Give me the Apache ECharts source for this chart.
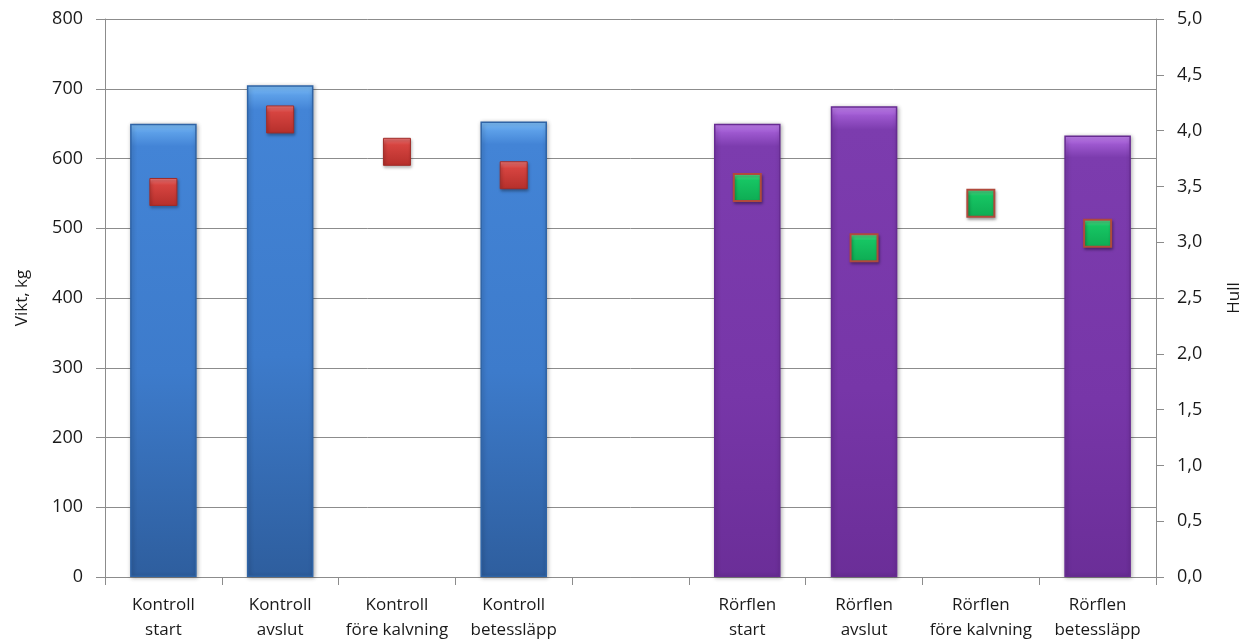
<!DOCTYPE html>
<html>
<head>
<meta charset="utf-8">
<script src="https://cdn.jsdelivr.net/npm/echarts@6/dist/echarts.min.js"></script>
<style>
  html, body { margin: 0; padding: 0; background: #fff; }
  #chart { width: 1251px; height: 644px; }
</style>
</head>
<body>
<div id="chart"></div>
<script>
// Categories (an empty slot separates the two groups)
const categories = [
  'Kontroll\nstart', 'Kontroll\navslut', 'Kontroll\nföre kalvning', 'Kontroll\nbetessläpp',
  '',
  'Rörflen\nstart', 'Rörflen\navslut', 'Rörflen\nföre kalvning', 'Rörflen\nbetessläpp'
];
// Weight, kg (left axis)
const viktKg = [650, 705, null, 653, null, 650, 675, null, 633];
// Body condition score (right axis)
const hull = [3.45, 4.1, 3.81, 3.6, null, 3.49, 2.95, 3.35, 3.08];
// Group of each category: 'k' = Kontroll, 'r' = Rörflen
const group = ['k', 'k', 'k', 'k', '', 'r', 'r', 'r', 'r'];

const leftTicks = { min: 0, max: 800, interval: 100 };
const rightTicks = { min: 0, max: 5, interval: 0.5 };

const font = '"Open Sans", "Noto Sans", sans-serif';

function grad(stops) {
  return new echarts.graphic.LinearGradient(0, 0, 0, 1, stops.map(c => ({ offset: c[0], color: c[1] })));
}

const blueBar = grad([[0, '#80c0f8'], [0.02, '#5c9fe8'], [0.05, '#4384d6'], [0.55, '#3d7bcb'], [1, '#2e5e9e']]);
const purpleBar = grad([[0, '#c585f2'], [0.02, '#9d58cf'], [0.05, '#7c3cae'], [0.6, '#7736a8'], [1, '#6b2e98']]);
const redMark = grad([[0, '#f07a7a'], [0.25, '#d64440'], [1, '#b52f2b']]);
const greenMark = grad([[0, '#6ff0a0'], [0.25, '#16c563'], [1, '#0eab53']]);

const barData = viktKg.map((v, i) => ({
  value: v,
  itemStyle: {
    color: group[i] === 'k' ? blueBar : purpleBar,
    borderColor: group[i] === 'k' ? '#2f64a6' : '#672b92',
    borderWidth: 1.5,
    shadowColor: 'rgba(0,0,0,0.3)',
    shadowBlur: 4,
    shadowOffsetX: 1,
    shadowOffsetY: 1
  }
}));

const markData = hull.map((v, i) => ({
  value: v,
  itemStyle: {
    opacity: 1,
    color: group[i] === 'k' ? redMark : greenMark,
    borderColor: group[i] === 'k' ? '#a02c28' : '#b04a3c',
    borderWidth: group[i] === 'k' ? 1 : 2,
    shadowColor: 'rgba(0,0,0,0.35)',
    shadowBlur: 3,
    shadowOffsetX: 1,
    shadowOffsetY: 2
  }
}));

const chart = echarts.init(document.getElementById('chart'), null, { renderer: 'canvas' });
chart.setOption({
  animation: false,
  backgroundColor: '#ffffff',
  grid: { left: 105, right: 94, top: 19, bottom: 67 },
  xAxis: {
    type: 'category',
    data: categories,
    boundaryGap: true,
    axisLine: { lineStyle: { color: '#8c8c8c', width: 1 } },
    axisTick: { show: true, length: 8, lineStyle: { color: '#8c8c8c' } },
    axisLabel: {
      interval: 0,
      margin: 16,
      color: '#1a1a1a',
      fontFamily: font,
      fontSize: 17,
      lineHeight: 25
    }
  },
  yAxis: [
    {
      type: 'value',
      min: leftTicks.min, max: leftTicks.max, interval: leftTicks.interval,
      name: 'Vikt, kg',
      nameLocation: 'middle',
      nameRotate: 90,
      nameGap: 74,
      nameTextStyle: { color: '#1a1a1a', fontFamily: font, fontSize: 17 },
      axisLine: { show: true, lineStyle: { color: '#8c8c8c' } },
      axisTick: { show: true, inside: false, length: 9, lineStyle: { color: '#8c8c8c' } },
      axisLabel: { margin: 22, color: '#1a1a1a', fontFamily: font, fontSize: 18 },
      splitLine: { show: true, lineStyle: { color: '#8c8c8c', width: 1 } }
    },
    {
      type: 'value',
      position: 'right',
      min: rightTicks.min, max: rightTicks.max, interval: rightTicks.interval,
      name: 'Hull',
      nameLocation: 'middle',
      nameRotate: 90,
      nameGap: 70,
      nameTextStyle: { color: '#1a1a1a', fontFamily: font, fontSize: 17 },
      axisLine: { show: true, lineStyle: { color: '#8c8c8c' } },
      axisTick: { show: true, inside: false, length: 8, lineStyle: { color: '#8c8c8c' } },
      axisLabel: {
        margin: 21, color: '#1a1a1a', fontFamily: font, fontSize: 18,
        formatter: v => v.toFixed(1).replace('.', ',')
      },
      splitLine: { show: false }
    }
  ],
  series: [
    {
      name: 'Vikt, kg',
      type: 'bar',
      yAxisIndex: 0,
      data: barData,
      barWidth: '57%'
    },
    {
      name: 'Hull',
      type: 'scatter',
      yAxisIndex: 1,
      symbol: 'rect',
      symbolSize: 27,
      data: markData,
      z: 5
    }
  ]
});
</script>
</body>
</html>
